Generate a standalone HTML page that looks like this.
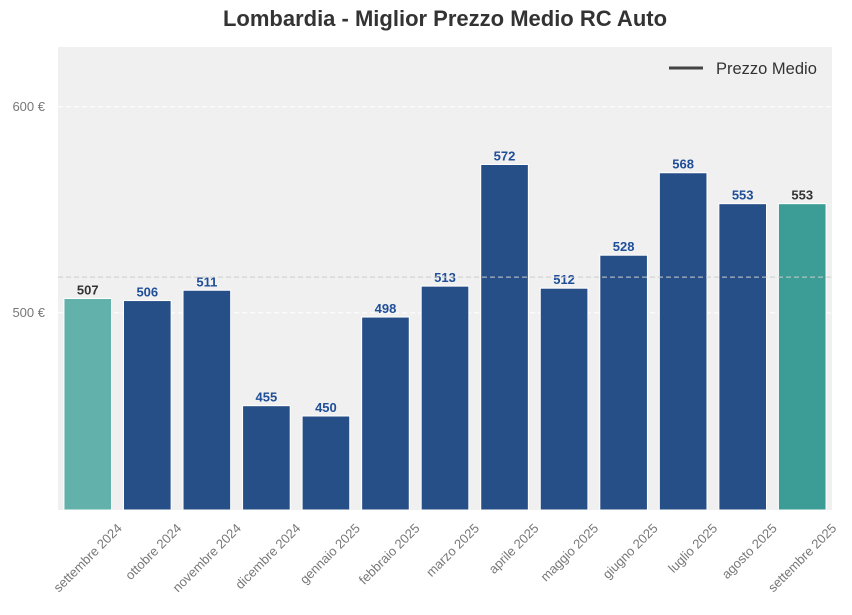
<!DOCTYPE html>
<html><head><meta charset="utf-8"><style>
body{margin:0;background:#fff;font-family:"Liberation Sans",Arial,sans-serif}
svg text{font-family:"Liberation Sans",Arial,sans-serif}
</style></head><body>
<svg id="c" width="852" height="610" xmlns="http://www.w3.org/2000/svg">
<text x="445" y="26" text-anchor="middle" font-size="22" font-weight="bold" fill="#333">Lombardia - Miglior Prezzo Medio RC Auto</text>
<rect x="58" y="47" width="774" height="463" fill="#f0f0f0"/>
<g id="grid"></g><g id="bars"></g><g id="labels"></g><g id="xt"></g>
<g>
<line x1="669" y1="68" x2="703" y2="68" stroke="#444" stroke-width="3"/>
<text x="716" y="74" font-size="16.5" fill="#333">Prezzo Medio</text>
</g>
</svg>
<script>
const categories=["settembre 2024","ottobre 2024","novembre 2024","dicembre 2024","gennaio 2025","febbraio 2025","marzo 2025","aprile 2025","maggio 2025","giugno 2025","luglio 2025","agosto 2025","settembre 2025"];
const values=[507,506,511,455,450,498,513,572,512,528,568,553,553];
const yTicks=[500,600];
const yTickLabels=["500 €","600 €"];
const NS="http://www.w3.org/2000/svg";
const X0=58,W=774,Y0=47,H=463,ymin=404.4,ymax=629;
const band=W/categories.length;
const y=v=>Y0+H-(v-ymin)/(ymax-ymin)*H;
const xc=i=>X0+band*(i+0.5);
function mk(t,a,p){const e=document.createElementNS(NS,t);for(const k in a)e.setAttribute(k,a[k]);document.getElementById(p).appendChild(e);return e;}
yTicks.forEach((t,i)=>{
 const l=mk('line',{x1:X0,x2:X0+W,y1:y(t),y2:y(t),stroke:'#fff','stroke-dasharray':'5,3','stroke-width':1},'grid');
 
 
 const tx=mk('text',{x:X0-13,y:y(t)+4,'text-anchor':'end','font-size':13,fill:'#777'},'grid');
 tx.textContent=yTickLabels[i];
 
 
});
const bw=band*0.8;
values.forEach((v,i)=>{
 const last=i===values.length-1,first=i===0;
 const col=first?'#63b1ab':last?'#3c9d97':'#274f87';
 const r=mk('rect',{x:xc(i)-bw/2,y:y(v),width:bw,height:Y0+H-y(v),fill:col,stroke:'#fff','stroke-width':1},'bars');
 
 
 const t=mk('text',{x:xc(i),y:y(v)-4,'text-anchor':'middle','font-size':13,'font-weight':'bold',fill:(first||last)?'#333':'#1f4e99'},'labels');
 t.textContent=v;
 
 
 const ax=xc(i)+35, ay=529;
 const xt=mk('text',{x:ax,y:ay,'text-anchor':'end','font-size':13,fill:'#777',transform:`rotate(-45 ${ax} ${ay})`},'xt');
 xt.textContent=categories[i];
 
 
});
const avg=values.reduce((a,b)=>a+b,0)/values.length;
const al=mk('line',{x1:X0,x2:X0+W,y1:y(avg),y2:y(avg),stroke:'#ccc','stroke-dasharray':'5,3','stroke-width':1},'labels');


</script>
</body></html>
